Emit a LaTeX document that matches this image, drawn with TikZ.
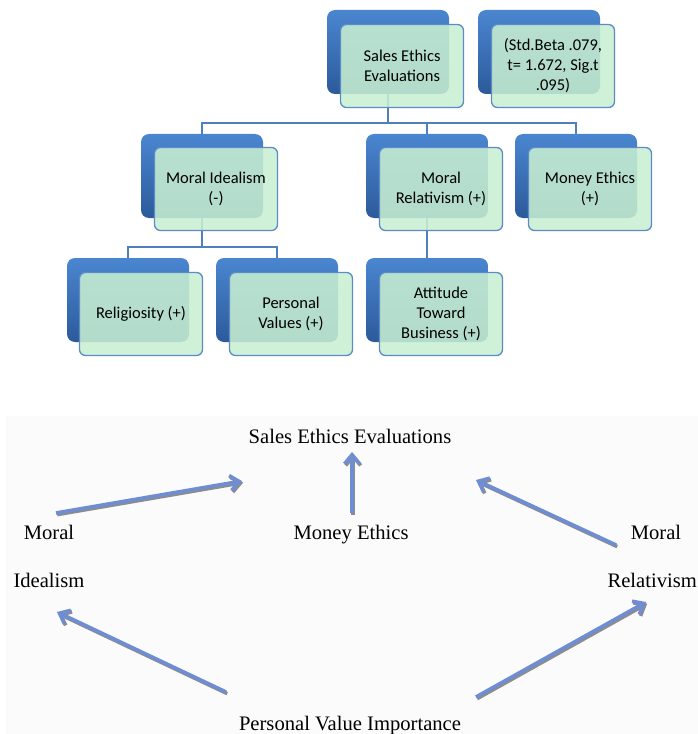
\documentclass[tikz,border=0pt]{standalone}
\usepackage{fontspec}
\setmainfont{Liberation Serif}
\newfontfamily\calib{Carlito}
\usetikzlibrary{arrows.meta}
\definecolor{backtop}{HTML}{4A86D0}
\definecolor{backbot}{HTML}{2C5A9B}
\definecolor{frontfill}{HTML}{C8EFD2}
\definecolor{frontedge}{HTML}{5C8BC8}
\definecolor{connblue}{HTML}{4F7FBE}
\definecolor{arrblue}{HTML}{6E8DD2}
\definecolor{panelgray}{HTML}{FBFBFB}
\tikzset{
  backbox/.style={rectangle, rounded corners=8bp, minimum width=122bp, minimum height=84bp,
    inner sep=0pt, top color=backtop, bottom color=backbot, draw=none},
  frontbox/.style={rectangle, rounded corners=6bp, minimum width=123bp, minimum height=83bp,
    inner sep=2bp, fill=frontfill, fill opacity=0.87, text opacity=1, draw=frontedge,
    line width=1.3bp, align=center, font=\calib\fontsize{16.5bp}{20bp}\selectfont},
  conn/.style={draw=connblue, line width=1.6bp},
  lbl/.style={anchor=base, inner sep=0pt, font=\fontsize{20.6bp}{24bp}\selectfont},
  fatarrow/.style={draw=arrblue, line width=3.6bp, -{Straight Barb[length=9bp, width=15bp]}},
  fatshadow/.style={draw=gray!90, line width=3.6bp, -{Straight Barb[length=9bp, width=15bp]}},
}
\begin{document}
\begin{tikzpicture}[x=1bp, y=-1bp]
\useasboundingbox (0,0) rectangle (698,734);
% bottom panel background
\fill[panelgray] (6,416) rectangle (698,734);

% ---------- top hierarchy: back boxes ----------
\node[backbox] (seeB) at (388,52) {};
\node[backbox] (statB) at (539,52) {};
\node[backbox] (miB) at (202,176) {};
\node[backbox] (mrB) at (427,176) {};
\node[backbox] (meB) at (576,176) {};
\node[backbox] (relB) at (128,300) {};
\node[backbox] (pvB) at (277,300) {};
\node[backbox] (atbB) at (427,300) {};

% connectors
\coordinate (bus1) at (0,123);
\coordinate (bus2) at (0,247);
\draw[conn] (seeB.south) -- (seeB.south |- bus1) -| (miB.north);
\draw[conn] (seeB.south |- bus1) -| (mrB.north);
\draw[conn] (seeB.south |- bus1) -| (meB.north);
\draw[conn] (miB.south) -- (miB.south |- bus2) -| (relB.north);
\draw[conn] (miB.south |- bus2) -| (pvB.north);
\draw[conn] (mrB.south) -- (atbB.north);

% front boxes
\node[frontbox] (see) at (402,66) {Sales Ethics\\Evaluations};
\node[frontbox] (stat) at (553,66) {(Std.Beta .079,\\t= 1.672, Sig.t\\.095)};
\node[frontbox] (mi) at (216,189) {Moral Idealism\\(-)};
\node[frontbox] (mr) at (441,189) {Moral\\Relativism (+)};
\node[frontbox] (me) at (590,189) {Money Ethics\\(+)};
\node[frontbox] (rel) at (141,314) {Religiosity (+)};
\node[frontbox] (pv) at (291,314) {Personal\\Values (+)};
\node[frontbox] (atb) at (441,314) {Attitude\\Toward\\Business (+)};

% ---------- bottom model ----------
\node[lbl] (see2) at (350,443) {Sales Ethics Evaluations};
\node[lbl] (me2) at (351,539) {Money Ethics};
\node[lbl] (mi2a) at (49,539) {Moral};
\node[lbl] (mi2b) at (49,587) {Idealism};
\node[lbl] (mr2a) at (656,539) {Moral};
\node[lbl, anchor=base east] (mr2b) at (697,587) {Relativism};
\node[lbl] (pvi) at (350,730) {Personal Value Importance};

\coordinate (a1s) at (56,513);  \coordinate (a1e) at (242,481);
\coordinate (a2s) at (352,513); \coordinate (a2e) at (352,452);
\coordinate (a3s) at (616,545); \coordinate (a3e) at (476,480);
\coordinate (a4s) at (226,692); \coordinate (a4e) at (57,612);
\coordinate (a5s) at (476,697); \coordinate (a5e) at (646,602);

\foreach \s/\e in {a1s/a1e, a2s/a2e, a3s/a3e, a4s/a4e, a5s/a5e} {
  \draw[fatshadow, transform canvas={shift={(1.2bp,-1.6bp)}}] (\s) -- (\e);
  \draw[fatarrow] (\s) -- (\e);
}
\end{tikzpicture}
\end{document}
